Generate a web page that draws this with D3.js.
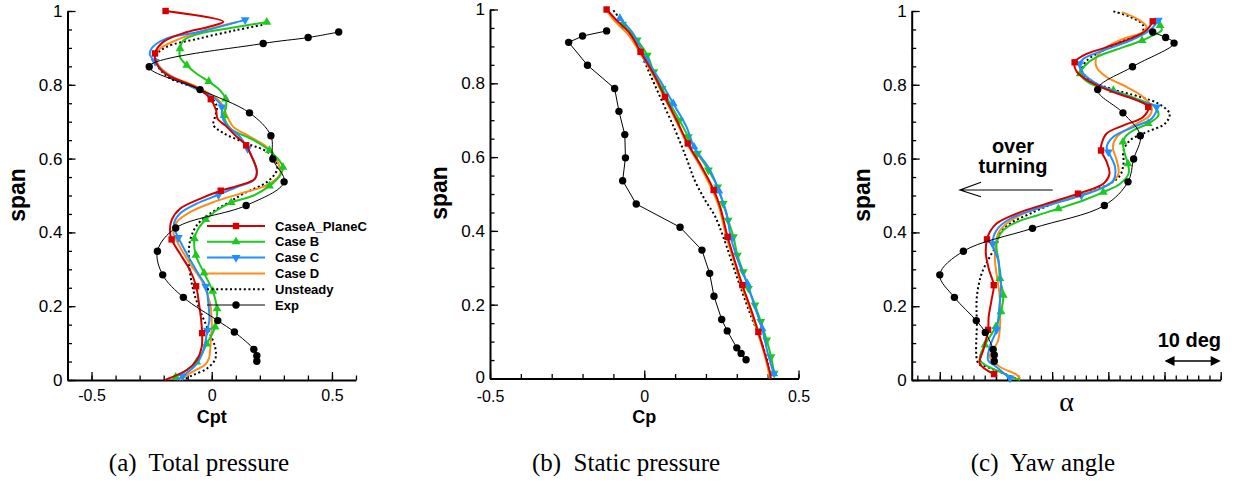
<!DOCTYPE html>
<html>
<head>
<meta charset="utf-8">
<script src="https://cdn.jsdelivr.net/npm/d3@7"></script>
<style>
  body { margin: 0; background: #fff; }
  svg { display: block; }
</style>
</head>
<body>
<script>
// Spanwise profiles: [value, span, marker?]

// (a) Total pressure
const cptCaseA = [[-0.192,1.0,1],[0.048,0.971],[-0.007,0.958],[-0.118,0.94],[-0.2,0.917],[-0.236,0.885,1],[-0.222,0.849],[-0.18,0.825],[-0.118,0.808],[-0.049,0.787],[-0.004,0.761,1],[0.018,0.731],[0.024,0.708],[0.056,0.69],[0.104,0.659],[0.143,0.636,1],[0.167,0.604],[0.1875,0.568],[0.18,0.546],[0.118,0.528],[0.0375,0.513,1],[-0.049,0.491],[-0.132,0.464],[-0.167,0.433],[-0.174,0.406],[-0.167,0.381,1],[-0.132,0.342],[-0.09,0.297],[-0.065,0.254,1],[-0.053,0.207],[-0.044,0.162],[-0.04,0.127,1],[-0.042,0.089],[-0.062,0.054],[-0.104,0.027],[-0.195,0]];
const cptCaseB = [[0.229,0.97,1],[0.09,0.955],[-0.049,0.939],[-0.118,0.92],[-0.132,0.898,1],[-0.132,0.875],[-0.104,0.853,1],[-0.0625,0.83],[-0.0125,0.809,1],[0.035,0.785],[0.058,0.762,1],[0.06,0.74],[0.051,0.717,1],[0.08,0.68],[0.16,0.655],[0.24,0.622,1],[0.296,0.577,1],[0.285,0.555],[0.24,0.526,1],[0.174,0.5],[0.081,0.481,1],[0.021,0.46],[-0.025,0.435,1],[-0.056,0.41],[-0.072,0.383,1],[-0.066,0.338,1],[-0.032,0.29,1],[0.004,0.241,1],[0.022,0.193,1],[0.014,0.144,1],[-0.021,0.098,1],[-0.0625,0.049,1],[-0.15,0.008,1]];
const cptCaseC = [[0.139,0.976,1],[-0.049,0.944],[-0.1875,0.926],[-0.25,0.899],[-0.257,0.881],[-0.236,0.863,1],[-0.2,0.835],[-0.118,0.805],[-0.035,0.78],[0.014,0.762],[0.042,0.74,1],[0.042,0.717],[0.0625,0.69],[0.118,0.659],[0.149,0.627,1],[0.174,0.595],[0.1875,0.559],[0.174,0.541],[0.104,0.523],[0.028,0.502,1],[-0.0625,0.478],[-0.132,0.451],[-0.157,0.424],[-0.153,0.406],[-0.139,0.386,1],[-0.104,0.342],[-0.056,0.288],[-0.025,0.254,1],[-0.014,0.207],[-0.01,0.162],[-0.018,0.135,1],[-0.035,0.08],[-0.0625,0.044],[-0.121,0.011,1],[-0.146,0]];
const cptCaseD = [[0.104,0.97],[-0.021,0.949],[-0.132,0.925],[-0.215,0.898],[-0.236,0.875],[-0.215,0.848],[-0.16,0.821],[-0.076,0.799],[-0.021,0.78],[0.028,0.758],[0.049,0.74],[0.0625,0.717],[0.09,0.686],[0.16,0.659],[0.229,0.631],[0.278,0.586],[0.285,0.559],[0.229,0.528],[0.118,0.505],[0.007,0.482],[-0.09,0.455],[-0.146,0.428],[-0.16,0.401],[-0.139,0.369],[-0.09,0.315],[-0.035,0.261],[-0.007,0.207],[0,0.153],[-0.005,0.098],[-0.012,0.058],[-0.03,0.04],[-0.07,0.026],[-0.135,0]];
const cptUnsteady = [[0.21,0.962],[0.1,0.948],[-0.049,0.926],[-0.1875,0.903],[-0.229,0.881],[-0.222,0.849],[-0.174,0.818],[-0.076,0.793],[-0.007,0.768],[0.021,0.741],[0.014,0.714],[0.007,0.691],[0.049,0.669],[0.146,0.641],[0.229,0.619],[0.264,0.596],[0.271,0.569],[0.23,0.537],[0.132,0.505],[0.0625,0.478],[-0.007,0.451],[-0.0625,0.419],[-0.09,0.378],[-0.095,0.324],[-0.08,0.252],[-0.049,0.189],[-0.014,0.135],[0.014,0.089],[0.015,0.058],[-0.02,0.031],[-0.08,0.013],[-0.12,0]];
const cptExp = [[0.528,0.943],[0.401,0.928],[0.214,0.912],[-0.26,0.849],[-0.049,0.787],[0.157,0.724],[0.246,0.662],[0.254,0.599],[0.301,0.537],[0.143,0.473],[-0.15,0.412],[-0.226,0.349],[-0.204,0.285],[-0.118,0.224],[0.025,0.161],[0.094,0.13],[0.175,0.083],[0.1875,0.066],[0.1875,0.051]];

// (b) Static pressure
const cpCaseA = [[-0.122,1.0,1],[-0.09,0.971],[-0.047,0.935],[-0.012,0.885,1],[0.029,0.827],[0.067,0.763,1],[0.105,0.7],[0.141,0.637,1],[0.186,0.574],[0.225,0.511,1],[0.246,0.465],[0.27,0.384,1],[0.293,0.32],[0.318,0.253,1],[0.345,0.19],[0.37,0.126,1],[0.39,0.07],[0.408,0.014],[0.41,0]];
const cpCaseB = [[-0.07,0.96,1],[-0.023,0.917,1],[0.01,0.876,1],[0.031,0.831,1],[0.058,0.786,1],[0.085,0.743,1],[0.114,0.7,1],[0.143,0.655,1],[0.173,0.61,1],[0.208,0.565,1],[0.238,0.519,1],[0.256,0.474,1],[0.272,0.429,1],[0.289,0.384,1],[0.302,0.334,1],[0.321,0.289,1],[0.338,0.244,1],[0.359,0.199,1],[0.378,0.154,1],[0.397,0.104,1],[0.411,0.059,1],[0.421,0.014,1]];
const cpCaseC = [[-0.079,0.976,1],[-0.036,0.935],[0.008,0.863,1],[0.051,0.808],[0.094,0.745,1],[0.137,0.682],[0.161,0.628,1],[0.213,0.565],[0.242,0.508,1],[0.267,0.447],[0.281,0.381,1],[0.311,0.303],[0.334,0.257,1],[0.36,0.19],[0.382,0.135,1],[0.4,0.07],[0.42,0.013,1]];
const cpCaseD = [[-0.12,0.995],[-0.095,0.968],[-0.05,0.93],[-0.016,0.885],[0.026,0.827],[0.064,0.763],[0.102,0.7],[0.138,0.637],[0.182,0.574],[0.22,0.511],[0.242,0.465],[0.266,0.384],[0.29,0.32],[0.315,0.253],[0.342,0.19],[0.367,0.126],[0.388,0.07],[0.404,0.014],[0.406,0]];
const cpUnsteady = [[-0.1,0.998],[-0.068,0.962],[-0.035,0.92],[-0.012,0.885],[0.008,0.845],[0.051,0.764],[0.1,0.673],[0.135,0.601],[0.163,0.538],[0.197,0.484],[0.23,0.439],[0.256,0.384],[0.3,0.276],[0.343,0.176],[0.381,0.095],[0.403,0.031],[0.405,0]];
const cpExp = [[-0.122,0.942],[-0.2,0.928],[-0.245,0.911],[-0.184,0.849],[-0.096,0.786],[-0.082,0.724],[-0.063,0.661],[-0.061,0.598],[-0.07,0.536],[-0.026,0.473],[0.116,0.41],[0.187,0.348],[0.212,0.285],[0.226,0.223],[0.251,0.16],[0.269,0.129],[0.3,0.083],[0.314,0.068],[0.33,0.051]];

// (c) Yaw angle, degrees
const yawCaseA = [[37.9,0.972,1],[36.8,0.948],[33.9,0.925],[29.7,0.902],[25.6,0.88],[24.0,0.861,1],[24.4,0.835],[26.8,0.808],[30.9,0.78],[35.1,0.758],[37.1,0.74,1],[36.2,0.713],[32.7,0.69],[29.7,0.668],[28.8,0.64],[28.7,0.622,1],[29.7,0.591],[30.2,0.559],[29.1,0.532],[24.6,0.505,1],[19.0,0.478],[13.7,0.451],[10.1,0.424],[8.9,0.401],[8.4,0.381,1],[8.2,0.342],[8.8,0.297],[9.6,0.257,1],[9.2,0.216],[8.7,0.171],[8.6,0.136,1],[7.75,0.081],[7.1,0.045],[9.65,0.016,1]];
const yawCaseB = [[39.2,0.961,1],[39.5,0.948],[37.4,0.93],[36.0,0.92,1],[32.7,0.902],[27.9,0.875],[25.9,0.853],[25.0,0.83,1],[26.8,0.803],[30.9,0.785,1],[35.1,0.762],[38.3,0.74],[38.9,0.717],[37.1,0.695,1],[34.5,0.677],[33.0,0.659],[32.6,0.645,1],[33.0,0.609],[33.5,0.586,1],[33.6,0.559],[32.1,0.532],[29.1,0.509,1],[25.6,0.487],[21.1,0.464,1],[17.3,0.446],[13.7,0.428],[11.3,0.406],[10.1,0.369],[10.5,0.32],[10.7,0.275,1],[11.3,0.23,1],[10.9,0.185,1],[10.0,0.145,1],[8.05,0.095,1],[7.15,0.054],[10.7,0.022],[14.3,0]];
const yawCaseC = [[38.9,0.975,1],[37.4,0.948],[33.9,0.92],[29.1,0.893],[25.6,0.871],[24.9,0.857,1],[25.3,0.835],[27.9,0.803],[32.1,0.776],[36.2,0.753],[38.6,0.74,1],[37.7,0.708],[34.5,0.686],[30.9,0.659],[29.7,0.631],[30.0,0.618,1],[31.2,0.577],[30.9,0.541],[28.2,0.516],[25.2,0.5,1],[17.3,0.464],[12.5,0.437],[10.1,0.406],[9.4,0.369,1],[10.4,0.324],[10.9,0.262],[10.6,0.198],[10.1,0.136,1],[8.9,0.09],[8.6,0.054],[10.1,0.035],[12.5,0.005,1]];
const yawCaseD = [[32.4,0.997],[35.1,0.979],[36.8,0.957],[36.2,0.943],[32.7,0.925],[29.7,0.902],[27.9,0.875],[27.9,0.848],[29.7,0.821],[33.3,0.794],[36.2,0.767],[37.7,0.74],[37.4,0.717],[34.5,0.69],[31.5,0.659],[30.8,0.631],[31.5,0.595],[31.8,0.559],[30.3,0.532],[25.6,0.505],[19.6,0.478],[14.9,0.451],[11.9,0.424],[10.4,0.397],[9.8,0.334],[10.7,0.217],[10.4,0.108],[8.9,0.063],[10.7,0.036],[13.7,0.014],[14.3,0.004]];
const yawUnsteady = [[30.9,0.999],[33.9,0.984],[36.2,0.961],[35.9,0.939],[32.7,0.92],[29.1,0.893],[26.2,0.866],[25.3,0.839],[26.8,0.812],[30.3,0.79],[35.7,0.767],[38.9,0.749],[40.9,0.722],[40.1,0.695],[36.8,0.672],[33.9,0.65],[32.7,0.622],[32.7,0.586],[32.1,0.555],[30.3,0.532],[26.2,0.509],[20.8,0.482],[16.1,0.451],[12.5,0.424],[10.7,0.397],[10.1,0.366],[8.9,0.334],[7.46,0.289],[6.6,0.226],[6.6,0.154],[6.86,0.045],[8.35,0.036],[14.3,0]];
const yawExp = [[37.9,0.943],[40.2,0.928],[41.7,0.913],[34.3,0.849],[28.1,0.787],[32.6,0.724],[35.7,0.662],[34.5,0.599],[33.5,0.537],[29.3,0.473],[16.5,0.411],[4.2,0.349],[0.0,0.285],[2.6,0.224],[6.5,0.161],[8.1,0.129],[9.5,0.083],[9.7,0.068],[9.7,0.051]];

const legendNames = ['CaseA_PlaneC', 'Case B', 'Case C', 'Case D', 'Unsteady', 'Exp'];
const spanTicks = [0, 0.2, 0.4, 0.6, 0.8, 1];
const captions = ['(a)\u00a0 Total pressure', '(b)\u00a0 Static pressure', '(c)\u00a0 Yaw angle'];

const SANS = 'Liberation Sans, Arial, Helvetica, sans-serif';
const SERIF = 'Liberation Serif, Times New Roman, serif';

const styles = [
  { color: '#d40000', width: 2, marker: 'square' },
  { color: '#1ec81e', width: 2, marker: 'up' },
  { color: '#1e90ff', width: 2, marker: 'down' },
  { color: '#ff8c1a', width: 2, marker: null },
  { color: '#000', width: 2, marker: null, dash: '2,2.6' },
  { color: '#000', width: 1, marker: 'circle' }
];

const svg = d3.select('body').append('svg')
  .attr('width', 1244)
  .attr('height', 484);

const fmt = d => String(Math.round(d * 100) / 100);

function addMarker(sel, type, color) {
  if (type === 'circle') {
    sel.append('circle').attr('r', 3.7).attr('fill', '#000');
  } else if (type === 'square') {
    sel.append('rect').attr('x', -3.2).attr('y', -3.2).attr('width', 6.4).attr('height', 6.4).attr('fill', color);
  } else if (type === 'up' || type === 'down') {
    sel.append('path')
      .attr('d', d3.symbol(d3.symbolTriangle, 34)())
      .attr('transform', type === 'down' ? 'rotate(180)' : null)
      .attr('fill', color);
  }
}

function drawPanel(p) {
  const g = svg.append('g');
  const x = p.x, y = p.y;
  const x0 = x.range()[0];
  const y0 = y(0);

  // minor ticks
  g.append('g').attr('transform', `translate(${x0},0)`)
    .call(d3.axisLeft(y).tickValues(d3.range(0, 21).map(d => d / 20)).tickSize(-4.5).tickFormat(''))
    .call(a => a.select('.domain').remove());
  g.append('g').attr('transform', `translate(0,${y0})`)
    .call(d3.axisBottom(x).tickValues(p.xMinor).tickSize(-4.5).tickFormat(''))
    .call(a => a.select('.domain').remove());

  // major ticks + labels
  const ya = g.append('g').attr('transform', `translate(${x0},0)`)
    .call(d3.axisLeft(y).tickValues(spanTicks).tickSize(-8).tickSizeOuter(0).tickPadding(5).tickFormat(fmt));
  const xa = g.append('g').attr('transform', `translate(0,${y0})`)
    .call(d3.axisBottom(x).tickValues(p.xMajor).tickSize(-8).tickSizeOuter(0).tickPadding(p.xPad || 10)
      .tickFormat(p.xLabels ? fmt : ''));
  ya.select('.domain').attr('stroke-width', 2);
  xa.select('.domain').attr('stroke-width', 2);
  ya.selectAll('text').attr('font-family', SANS).attr('font-size', 17).attr('fill', '#000');
  xa.selectAll('text').attr('font-family', SANS).attr('font-size', 16).attr('fill', '#000');
  if (p.nudgeZero) ya.selectAll('.tick').filter(d => d === 0).select('text').attr('y', -1.5);
  g.selectAll('.tick line').attr('stroke-width', 1.3);

  const line = d3.line()
    .x(d => x(d[0]))
    .y(d => y(d[1]))
    .curve(d3.curveCatmullRom.alpha(0.5));
  const lineLin = d3.line().x(d => x(d[0])).y(d => y(d[1]));

  const order = [4, 3, 1, 2, 0, 5];
  order.forEach(i => {
    const s = styles[i];
    const data = p.series[i];
    const mk = (i === 1 || i === 2) && p.swapTri ? (i === 1 ? 'down' : 'up') : s.marker;
    g.append('path')
      .datum(data)
      .attr('fill', 'none')
      .attr('stroke', s.color)
      .attr('stroke-width', s.width)
      .attr('stroke-dasharray', s.dash || null)
      .attr('d', i === 5 && p.expLinear ? lineLin : line);
    if (mk) {
      g.selectAll(null)
        .data(i === 5 ? data : data.filter(d => d[2]))
        .join('g')
        .attr('transform', d => `translate(${x(d[0])},${y(d[1])})`)
        .each(function () { addMarker(d3.select(this), mk, s.color); });
    }
  });

  // axis titles
  g.append('text')
    .attr('transform', `translate(${p.spanX},${p.spanY}) rotate(-90)`)
    .attr('text-anchor', 'middle')
    .attr('dy', '0.3em')
    .attr('font-family', SANS).attr('font-weight', 'bold').attr('font-size', 23)
    .text('span');
  g.append('text')
    .attr('x', p.titleX).attr('y', p.titleY)
    .attr('text-anchor', 'middle')
    .attr('font-family', p.titleSerif ? SERIF : SANS)
    .attr('font-weight', p.titleSerif ? 'normal' : 'bold')
    .attr('font-size', p.titleSize)
    .text(p.title);
  g.append('text')
    .attr('x', p.capX).attr('y', 471)
    .attr('text-anchor', 'middle')
    .attr('font-family', SERIF).attr('font-size', 25)
    .text(p.caption);
  return g;
}

// (a)
const xa = d3.scaleLinear().domain([-0.6, 0.6]).range([67.5, 356]);
const ya = d3.scaleLinear().domain([0, 1]).range([380, 11]);
const ga = drawPanel({
  x: xa, y: ya,
  xMinor: d3.range(-6, 7).map(d => d / 10), xMajor: [-0.5, 0, 0.5], xLabels: true,
  series: [cptCaseA, cptCaseB, cptCaseC, cptCaseD, cptUnsteady, cptExp],
  spanX: 18, spanY: 195, title: 'Cpt', titleX: 211.7, titleY: 423, titleSize: 18,
  capX: 199, caption: captions[0]
});

// legend
const leg = ga.append('g');
legendNames.forEach((name, i) => {
  const s = styles[i];
  const yy = 226 + i * 15.8;
  leg.append('line')
    .attr('x1', 207).attr('x2', 265).attr('y1', yy).attr('y2', yy)
    .attr('stroke', s.color).attr('stroke-width', s.width)
    .attr('stroke-dasharray', s.dash || null);
  if (s.marker) addMarker(leg.append('g').attr('transform', `translate(236,${yy})`), s.marker, s.color);
  leg.append('text')
    .attr('x', 275).attr('y', yy).attr('dy', '0.36em')
    .attr('font-family', SANS).attr('font-weight', 'bold').attr('font-size', 13)
    .text(name);
});

// (b)
const xb = d3.scaleLinear().domain([-0.5, 0.5]).range([490, 798.5]);
const yb = d3.scaleLinear().domain([0, 1]).range([378.5, 9.5]);
drawPanel({
  x: xb, y: yb,
  xMinor: d3.range(-5, 6).map(d => d / 10), xMajor: [-0.5, 0, 0.5], xLabels: true,
  xPad: 12, nudgeZero: true,
  series: [cpCaseA, cpCaseB, cpCaseC, cpCaseD, cpUnsteady, cpExp],
  expLinear: true, swapTri: true,
  spanX: 440, spanY: 193, title: 'Cp', titleX: 644.3, titleY: 423, titleSize: 18,
  capX: 626, caption: captions[1]
});

// (c)
const xc = d3.scaleLinear().domain([-5, 50]).range([911.7, 1220.7]);
const yc = d3.scaleLinear().domain([0, 1]).range([380, 11]);
const gc = drawPanel({
  x: xc, y: yc,
  xMinor: d3.range(-4, 51, 2), xMajor: [0, 10, 20, 30, 40, 50], xLabels: false,
  series: [yawCaseA, yawCaseB, yawCaseC, yawCaseD, yawUnsteady, yawExp],
  spanX: 863, spanY: 195, title: 'α', titleX: 1066.7, titleY: 411, titleSize: 28, titleSerif: true,
  capX: 1043, caption: captions[2]
});

// over turning annotation
gc.append('text').attr('x', 1013).attr('y', 153).attr('text-anchor', 'middle')
  .attr('font-family', SANS).attr('font-weight', 'bold').attr('font-size', 20).text('over');
gc.append('text').attr('x', 1013).attr('y', 173).attr('text-anchor', 'middle')
  .attr('font-family', SANS).attr('font-weight', 'bold').attr('font-size', 20).text('turning');
gc.append('path')
  .attr('d', 'M1052.7,190H960M981,182.3L960,190L981,196.7')
  .attr('fill', 'none').attr('stroke', '#000').attr('stroke-width', 1.2);

// 10 deg scale bar
gc.append('text').attr('x', 1221).attr('y', 347).attr('text-anchor', 'end')
  .attr('font-family', SANS).attr('font-weight', 'bold').attr('font-size', 20).text('10 deg');
const bx0 = xc(40), bx1 = xc(50), by = 361;
gc.append('line').attr('x1', bx0 + 8).attr('x2', bx1 - 8).attr('y1', by).attr('y2', by)
  .attr('stroke', '#000').attr('stroke-width', 1.3);
gc.append('path')
  .attr('d', `M${bx0},${by}l10,-5v10z M${bx1},${by}l-10,-5v10z`)
  .attr('fill', '#000');
</script>
</body>
</html>
